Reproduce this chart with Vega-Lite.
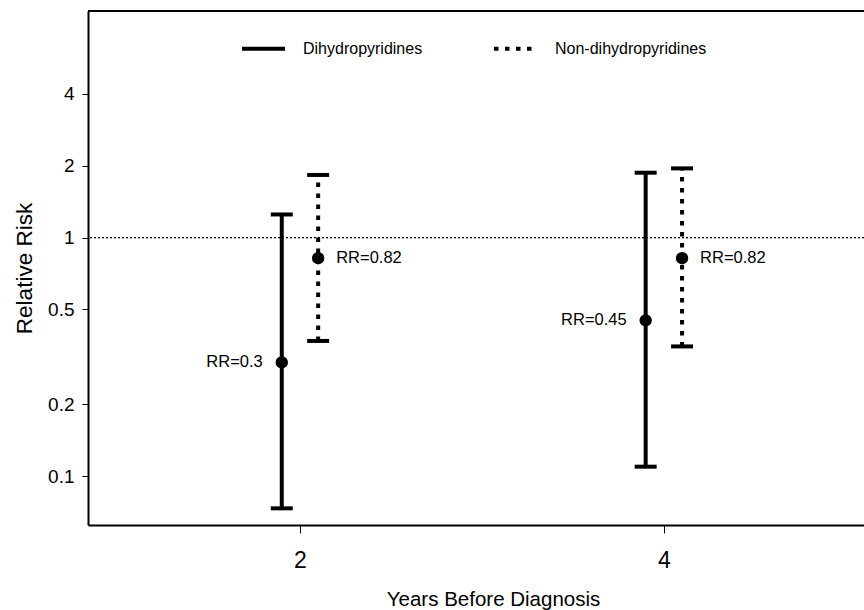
{
  "$schema": "https://vega.github.io/schema/vega-lite/v6.json",
  "autosize": {"type": "none"},
  "padding": {"left": 88, "top": 11, "right": 0, "bottom": 85},
  "width": 776,
  "height": 514,
  "background": "white",
  "config": {
    "view": {"stroke": null},
    "font": "Liberation Sans",
    "axis": {"grid": false, "domainColor": "black", "tickColor": "black", "labelColor": "black", "titleColor": "black", "titleFontWeight": "normal"}
  },
  "data": {"values": [
    {"year": 2, "pos": 1.9, "group": "Dihydropyridines", "rr": 0.3, "lo": 0.0734, "hi": 1.25, "label": "RR=0.3"},
    {"year": 2, "pos": 2.1, "group": "Non-dihydropyridines", "rr": 0.82, "lo": 0.369, "hi": 1.83, "label": "RR=0.82"},
    {"year": 4, "pos": 3.9, "group": "Dihydropyridines", "rr": 0.45, "lo": 0.1097, "hi": 1.87, "label": "RR=0.45"},
    {"year": 4, "pos": 4.1, "group": "Non-dihydropyridines", "rr": 0.82, "lo": 0.35, "hi": 1.95, "label": "RR=0.82"}
  ]},
  "layer": [
    {
      "mark": {"type": "rule", "color": "black", "strokeWidth": 1, "strokeDash": [2, 2]},
      "encoding": {"y": {"datum": 1, "type": "quantitative"}}
    },
    {
      "mark": {"type": "rule", "color": "black", "strokeWidth": 2},
      "encoding": {"y": {"datum": 8.9, "type": "quantitative"}}
    },
    {
      "mark": {"type": "rule", "color": "black", "strokeWidth": 4},
      "encoding": {
        "x": {"field": "pos", "type": "quantitative",
          "scale": {"domain": [0.835, 5.1], "nice": false, "zero": false},
          "axis": {"values": [2, 4], "format": "d", "title": "Years Before Diagnosis", "tickSize": 8, "tickWidth": 1, "domainWidth": 2,
            "labelFontSize": 23, "labelPadding": 16, "titleFontSize": 20.5, "titleBaseline": "alphabetic", "titleX": 405, "titleY": 80, "titleAlign": "center", "titleAnchor": null}},
        "y": {"field": "lo", "type": "quantitative",
          "scale": {"type": "log", "domain": [0.0625, 8.9], "nice": false},
          "axis": {"values": [0.1, 0.2, 0.5, 1, 2, 4], "format": "~g", "title": "Relative Risk", "tickSize": 6, "tickWidth": 1, "domainWidth": 2,
            "labelFontSize": 19, "labelPadding": 8, "titleFontSize": 22.5, "titleBaseline": "alphabetic", "titleAngle": -90, "titleX": -57, "titleY": 257, "titleAlign": "center", "titleAnchor": null}},
        "y2": {"field": "hi"},
        "strokeDash": {"field": "group", "type": "nominal",
          "scale": {"domain": ["Dihydropyridines", "Non-dihydropyridines"], "range": [[1, 0], [4.5, 6.5]]},
          "legend": {"title": null, "orient": "none", "legendX": 152, "legendY": 14, "direction": "horizontal",
            "symbolType": "stroke", "symbolSize": 1849, "symbolStrokeWidth": 4, "symbolStrokeColor": "black",
            "labelFontSize": 16, "labelOffset": 16, "columnPadding": 63, "padding": 0, "labelColor": "black"}}
      }
    },
    {
      "mark": {"type": "tick", "orient": "horizontal", "color": "black", "size": 22, "thickness": 4, "opacity": 1},
      "encoding": {"x": {"field": "pos", "type": "quantitative"}, "y": {"field": "lo", "type": "quantitative"}}
    },
    {
      "mark": {"type": "tick", "orient": "horizontal", "color": "black", "size": 22, "thickness": 4, "opacity": 1},
      "encoding": {"x": {"field": "pos", "type": "quantitative"}, "y": {"field": "hi", "type": "quantitative"}}
    },
    {
      "mark": {"type": "circle", "color": "black", "size": 154, "opacity": 1},
      "encoding": {"x": {"field": "pos", "type": "quantitative"}, "y": {"field": "rr", "type": "quantitative"}}
    },
    {
      "transform": [{"filter": "datum.group == 'Dihydropyridines'"}],
      "mark": {"type": "text", "align": "right", "baseline": "middle", "dx": -19, "fontSize": 16.5, "color": "black"},
      "encoding": {"x": {"field": "pos", "type": "quantitative"}, "y": {"field": "rr", "type": "quantitative"}, "text": {"field": "label"}}
    },
    {
      "transform": [{"filter": "datum.group == 'Non-dihydropyridines'"}],
      "mark": {"type": "text", "align": "left", "baseline": "middle", "dx": 18, "fontSize": 16.5, "color": "black"},
      "encoding": {"x": {"field": "pos", "type": "quantitative"}, "y": {"field": "rr", "type": "quantitative"}, "text": {"field": "label"}}
    }
  ]
}
